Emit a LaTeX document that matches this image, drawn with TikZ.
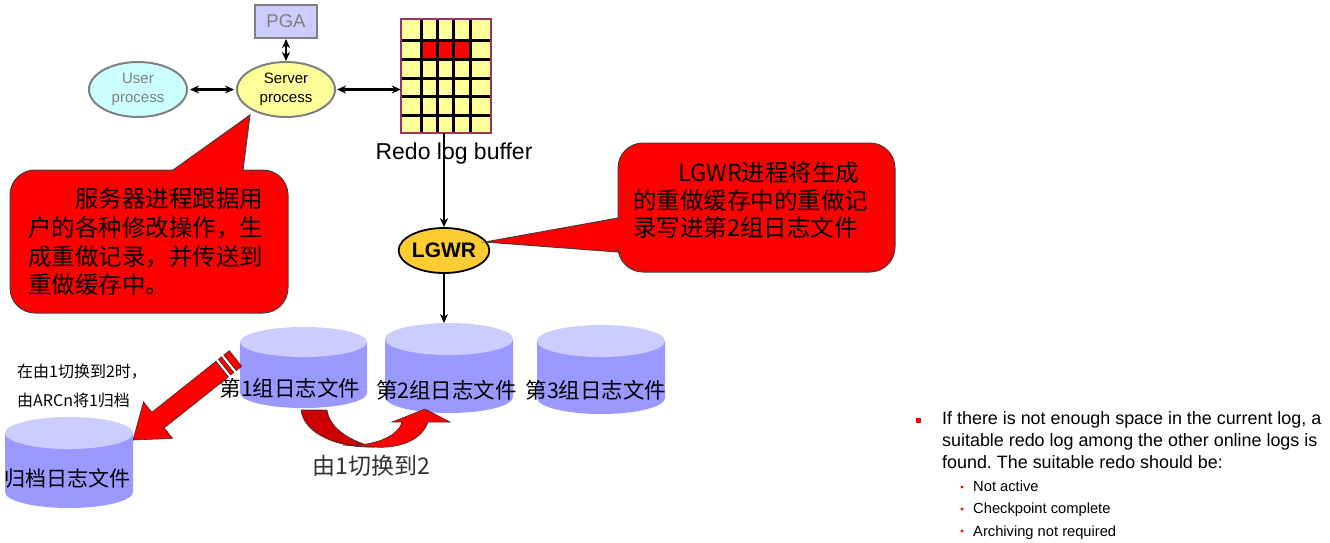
\documentclass[tikz,border=0pt]{standalone}
\usepackage{fontspec}
\setmainfont{Liberation Sans}
\newfontfamily\cjk{Noto Sans CJK SC}
\usetikzlibrary{arrows.meta,shapes.geometric}
\definecolor{cylbody}{HTML}{9999FF}
\definecolor{cyltop}{HTML}{CCCCFF}
\definecolor{softyellow}{HTML}{FFFF99}
\definecolor{softcyan}{HTML}{CCFFFF}
\definecolor{gold}{HTML}{FFCC33}
\definecolor{bufborder}{HTML}{993366}
\definecolor{darkred}{HTML}{CC0000}
\newcommand\fsz[2]{\fontsize{#1}{#2}\selectfont}
\newcommand\logcyl[6]{%
  \fill[cylbody] (#2-#3,-#4) -- (#2-#3,-#5) arc[start angle=180,end angle=360,x radius=#3,y radius=#6] -- (#2+#3,-#4) -- cycle;
  \fill[cyltop] (#2,-#4) ellipse[x radius=#3,y radius=#6];
  \coordinate (#1) at (#2,-#4+#6);}
\tikzset{
  conn/.style={line width=2.2pt,{Stealth[length=9pt,width=8pt]}-{Stealth[length=9pt,width=8pt]}},
  oneway/.style={line width=2.2pt,-{Stealth[length=9pt,width=8pt]}},
  procnode/.style={ellipse,draw=gray,line width=2pt,minimum width=98pt,minimum height=55pt,inner sep=0pt,align=center,font=\fsz{15}{19}},
  bubble/.style={fill=red,draw=black!75,line width=1pt},
  cjkline/.style={anchor=base west,inner sep=0pt,font=\cjk\fsz{23.5}{28}},
  cyllabel/.style={inner sep=0pt,font=\cjk\fsz{21.5}{24}},
  smallnote/.style={anchor=west,inner sep=0pt,font=\cjk\fsz{16}{18}},
  bulletline/.style={anchor=base west,inner sep=0pt,font=\fsz{17.9}{22}},
  subline/.style={anchor=base west,inner sep=0pt,font=\fsz{14.7}{18}},
  bigred/.style={fill=red,draw=black!80,line width=0.6pt}
}
\frenchspacing
\begin{document}
\begin{tikzpicture}[x=1pt,y=1pt]
\useasboundingbox (0,0) rectangle (1330,-542);

% ---- top processes ----
\node[draw=gray,line width=2pt,fill=cyltop,minimum width=62pt,minimum height=33pt,inner sep=0pt,text=gray,font=\fsz{18.5}{20}] (pga) at (286,-21.5) {PGA};
\node[procnode,fill=softcyan,text=gray] (user) at (138,-89.5) {User\\process};
\node[procnode,fill=softyellow] (server) at (286,-89.5) {Server\\process};

% ---- redo log buffer ----
\node[minimum width=90pt,minimum height=114pt,inner sep=0pt,fill=softyellow] (buffer) at (446,-76) {};
\fill[red] (421,-40.7) rectangle (470,-59.3);
\foreach \xx in {421,437,453,470} \draw[line width=3pt] (\xx,-19) -- (\xx,-133);
\foreach \yy in {40.7,59.3,78.3,96.7,115} \draw[line width=3pt] (401,-\yy) -- (491,-\yy);
\draw[bufborder,line width=1.8pt] (401,-19) rectangle (491,-133);
\node[inner sep=0pt,font=\fsz{23}{26}] (buflabel) at (454,-154) {Redo log buffer};

\draw[conn] (pga.south) -- (server.north);
\draw[conn,shorten <=2pt,shorten >=2pt] (user.east) -- (server.west);
\draw[conn,shorten <=1pt] (server.east) -- (server.east -| buffer.west);

% ---- LGWR ----
\node[ellipse,draw=black,line width=1.8pt,fill=gold,minimum width=76pt,minimum height=45pt,inner sep=0pt,font=\bfseries\fsz{21}{24}] (lgwr) at (444,-250.5) {LGWR};
\draw[oneway] (lgwr.north |- buffer.south) -- (lgwr.north);

% ---- callout 1 ----
\path[bubble] (173,-170) -- (250,-115) -- (243,-170) -- (263,-170)
  arc[start angle=90,end angle=0,radius=25] -- (288,-288)
  arc[start angle=0,end angle=-90,radius=25] -- (35,-313)
  arc[start angle=270,end angle=180,radius=25] -- (10,-195)
  arc[start angle=180,end angle=90,radius=25] -- cycle;
\node[cjkline] (c1a) at (75,-207) {服务器进程跟据用};
\node[cjkline] (c1b) at (28,-236) {户的各种修改操作，生};
\node[cjkline] (c1c) at (28,-265) {成重做记录，并传送到};
\node[cjkline] (c1d) at (28,-293) {重做缓存中。};

% ---- callout 2 ----
\path[bubble] (618,-218) -- (485,-242) -- (618,-252) -- (618,-247)
  arc[start angle=180,end angle=270,radius=25] -- (870,-272)
  arc[start angle=270,end angle=360,radius=25] -- (895,-168)
  arc[start angle=0,end angle=90,radius=25] -- (643,-143)
  arc[start angle=90,end angle=180,radius=25] -- cycle;
\node[cjkline] (c2a) at (678,-181) {LGWR进程将生成};
\node[cjkline] (c2b) at (633,-209) {的重做缓存中的重做记};
\node[cjkline] (c2c) at (633,-236) {录写进第2组日志文件};

% ---- log file groups ----
\logcyl{g1top}{303.5}{63.5}{342}{393}{15}
\logcyl{g2top}{449}{64}{339}{397}{16}
\logcyl{g3top}{601}{64}{341}{398}{16}
\logcyl{arctop}{69}{64}{433}{492}{16}
\node[cyllabel] (g1) at (290,-388) {第1组日志文件};
\node[cyllabel] (g2) at (446.5,-390) {第2组日志文件};
\node[cyllabel] (g3) at (596,-390) {第3组日志文件};
\node[cyllabel,font=\cjk\fsz{21}{24}] (arc) at (68,-478) {归档日志文件};

\draw[oneway] (lgwr.south) -- (lgwr.south |- g2top);

% ---- archive arrow ----
\begin{scope}[shift={(133,-440)},rotate=38.5]
  \path[bigred] (0,0) -- (32,23.4) -- (32,10) -- (114,10) -- (114,-10) -- (32,-10) -- (32,-23.4) -- cycle;
  \path[bigred] (117,10) rectangle (121,-10);
  \path[bigred] (124,10) rectangle (131,-10);
\end{scope}
\node[smallnote] (n1) at (17,-372) {在由1切换到2时，};
\node[smallnote] (n2) at (17,-400) {由ARCn将1归档};

% ---- switch arrow ----
\path[fill=darkred,draw=black!80,line width=0.6pt] (301,-410) .. controls (304,-435) and (340,-448) .. (373,-447)
  .. controls (352,-441) and (330,-430) .. (327,-410) -- cycle;
\path[fill=red,draw=black!80,line width=0.6pt] (343,-445) .. controls (372,-447) and (398,-437) .. (402,-422)
  -- (392,-422) -- (425,-409) -- (450,-422) -- (428,-422)
  .. controls (422,-440) and (400,-449) .. (373,-447) -- cycle;
\node[inner sep=0pt,text=black!80,font=\cjk\fsz{23}{26}] (sw) at (371,-466) {由1切换到2};

% ---- right text ----
\fill[red] (915.5,-417.5) rectangle (920.5,-422.5);
\node[bulletline] (b1) at (942,-424.5) {If there is not enough space in the current log, a};
\node[bulletline] (b2) at (942,-446.5) {suitable redo log among the other online logs is};
\node[bulletline] (b3) at (942,-468.5) {found. The suitable redo should be:};
\fill[red] (962,-487) circle (1.6);
\fill[red] (962,-509) circle (1.6);
\fill[red] (962,-531) circle (1.6);
\node[subline] (s1) at (973,-491) {Not active};
\node[subline] (s2) at (973,-513.5) {Checkpoint complete};
\node[subline] (s3) at (973,-536) {Archiving not required};
\end{tikzpicture}
\end{document}
